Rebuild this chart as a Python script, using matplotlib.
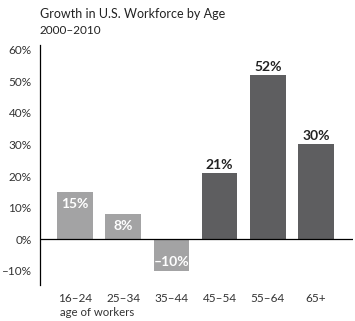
import matplotlib.pyplot as plt

ages = ['16–24', '25–34', '35–44', '45–54', '55–64', '65+']
growth = [15, 8, -10, 21, 52, 30]
labels = ['15%', '8%', '–10%', '21%', '52%', '30%']
yticks = [-10, 0, 10, 20, 30, 40, 50, 60]
ytick_labels = ['–10%', '0%', '10%', '20%', '30%', '40%', '50%', '60%']

light = '#a3a3a4'
dark = '#5e5e60'
colors = [light, light, light, dark, dark, dark]

plt.rcParams['font.family'] = ['Lato', 'DejaVu Sans']

fig = plt.figure(figsize=(3.55, 3.21), dpi=100)
ax = fig.add_axes([0.1127, 0.112, 0.8808, 0.748])

x = list(range(len(ages)))
ax.bar(x, growth, width=0.74, color=colors, zorder=2)
ax.axhline(0, color='black', linewidth=0.9, zorder=3)

for i, v in enumerate(growth):
    if colors[i] == light:
        if v >= 0:
            ax.annotate(labels[i], (i, v), xytext=(0, -9), textcoords='offset points',
                        ha='center', va='center', color='white', fontsize=10, fontweight='bold')
        else:
            ax.annotate(labels[i], (i, v), xytext=(0, 6), textcoords='offset points',
                        ha='center', va='center', color='white', fontsize=10, fontweight='bold')
    else:
        ax.annotate(labels[i], (i, v), xytext=(0, 6), textcoords='offset points',
                    ha='center', va='center', color='#222222', fontsize=10, fontweight='bold')

ax.set_xlim(-0.726, 5.76)
ax.set_ylim(-14.5, 61.5)
ax.set_yticks(yticks)
ax.set_yticklabels(ytick_labels, fontsize=8.5, color='#333333')
ax.set_xticks(x)
ax.set_xticklabels(ages, fontsize=8.5, color='#333333')
ax.tick_params(axis='both', length=0)
ax.tick_params(axis='y', pad=6)
ax.tick_params(axis='x', pad=6)

for s in ['top', 'right', 'bottom']:
    ax.spines[s].set_visible(False)
ax.spines['left'].set_linewidth(0.9)

fig.text(60 / 355, 1 - 313 / 321, 'age of workers', fontsize=8.2, color='#333333',
         ha='left', va='center')
fig.text(40 / 355, 1 - 14 / 321, 'Growth in U.S. Workforce by Age', fontsize=9,
         color='#222222', ha='left', va='center')
fig.text(40 / 355, 1 - 30 / 321, '2000–2010', fontsize=8.5, color='#222222',
         ha='left', va='center')

fig.savefig('out.png', dpi=100)
